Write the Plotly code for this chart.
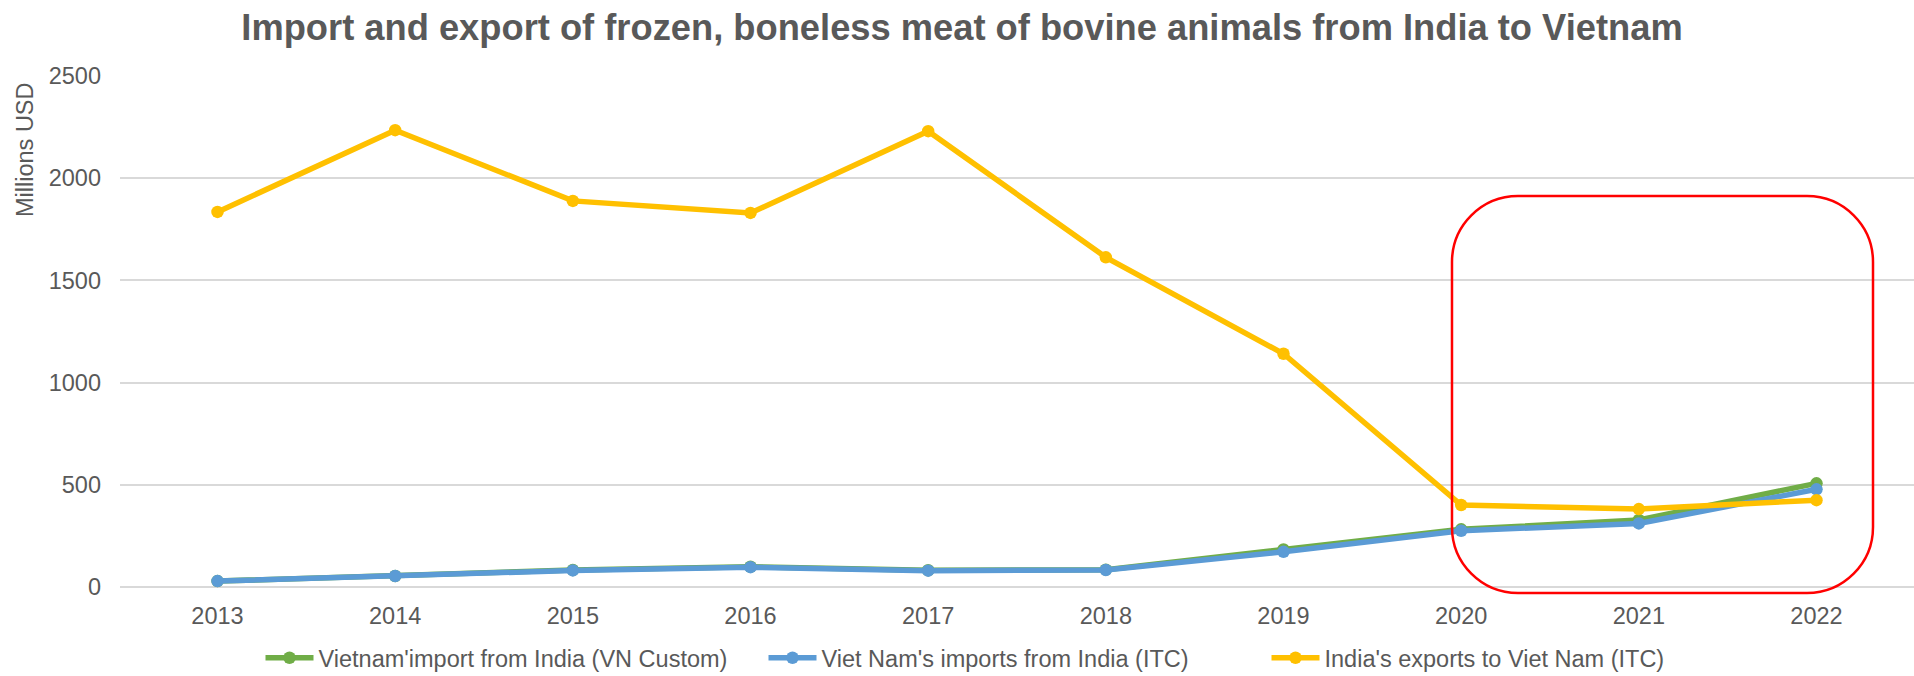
import plotly.graph_objects as go

# Years on the category axis
years = ["2013", "2014", "2015", "2016", "2017", "2018", "2019", "2020", "2021", "2022"]

# Millions USD
vn_custom_imports = [29, 54, 83, 99, 82, 85, 184, 282, 328, 507]
vn_itc_imports = [29, 54, 81, 97, 80, 83, 172, 275, 311, 478]
india_itc_exports = [1835, 2235, 1889, 1830, 2230, 1613, 1141, 401, 381, 425]

series_names = [
    "Vietnam'import from India (VN Custom)",
    "Viet Nam's imports from India (ITC)",
    "India's exports to Viet Nam (ITC)",
]
y_ticks = [0, 500, 1000, 1500, 2000, 2500]

W, H = 1914, 676
ML, MR, MT, MB = 120, 0, 76, 89
PW, PH = W - ML - MR, H - MT - MB

FONT = "Liberation Sans, Arial, sans-serif"
TEXT = "#595959"
GRID = "#D9D9D9"


def to_paper(x, y):
    """Convert page pixel position to paper coordinates."""
    return (x - ML) / PW, (H - MB - y) / PH


def rounded_rect(x0, y0, x1, y1, r):
    k = 0.5523 * r
    pts = []
    # path expressed in pixels, then mapped to paper
    segs = [
        ("M", [(x0 + r, y0)]),
        ("L", [(x1 - r, y0)]),
        ("C", [(x1 - r + k, y0), (x1, y0 + r - k), (x1, y0 + r)]),
        ("L", [(x1, y1 - r)]),
        ("C", [(x1, y1 - r + k), (x1 - r + k, y1), (x1 - r, y1)]),
        ("L", [(x0 + r, y1)]),
        ("C", [(x0 + r - k, y1), (x0, y1 - r + k), (x0, y1 - r)]),
        ("L", [(x0, y0 + r)]),
        ("C", [(x0, y0 + r - k), (x0 + r - k, y0), (x0 + r, y0)]),
    ]
    for cmd, coords in segs:
        parts = []
        for (px, py) in coords:
            a, b = to_paper(px, py)
            parts.append(f"{a:.5f},{b:.5f}")
        pts.append(cmd + " ".join(parts))
    return " ".join(pts) + " Z"


fig = go.Figure()
colors = ["#70AD47", "#5B9BD5", "#FFC000"]
for name, vals, col in zip(series_names,
                           [vn_custom_imports, vn_itc_imports, india_itc_exports],
                           colors):
    fig.add_trace(go.Scatter(
        x=years, y=vals, name=name, mode="lines+markers",
        line=dict(color=col, width=5.5),
        marker=dict(color=col, size=12.5),
        cliponaxis=False,
    ))

fig.update_layout(
    width=W, height=H,
    margin=dict(l=ML, r=MR, t=MT, b=MB, pad=0),
    paper_bgcolor="white", plot_bgcolor="white",
    font=dict(family=FONT, size=23.5, color=TEXT),
    title=dict(
        text="<b>Import and export of frozen, boneless meat of bovine animals from India to Vietnam</b>",
        font=dict(family=FONT, size=36.3, color=TEXT),
        x=0.5 + 5 / W, xanchor="center", xref="container",
        y=1 - 27 / H, yanchor="middle", yref="container",
    ),
    showlegend=True,
    legend=dict(
        orientation="h",
        x=0.5 + 58 / W, xanchor="center", xref="container",
        y=1 - 658 / H, yanchor="middle", yref="container",
        font=dict(family=FONT, size=23.5, color=TEXT),
        itemwidth=48,
        entrywidth=440,
        traceorder="normal",
        bgcolor="rgba(0,0,0,0)",
    ),
    xaxis=dict(
        type="category", showgrid=False, showline=False, zeroline=False,
        ticks="", tickfont=dict(size=23.5, color=TEXT),
        ticklabelstandoff=12,
    ),
    yaxis=dict(
        range=[0, 2500], tickvals=y_ticks, showgrid=True, gridcolor=GRID, gridwidth=1.5,
        zeroline=True, zerolinecolor=GRID, zerolinewidth=1.5,
        showline=False, ticks="", tickfont=dict(size=23.5, color=TEXT),
        ticklabelstandoff=18,
    ),
)

ax, ay = to_paper(25, 150)
fig.add_annotation(
    text="Millions USD", textangle=-90, showarrow=False,
    xref="paper", yref="paper", x=ax, y=ay,
    xanchor="center", yanchor="middle",
    font=dict(family=FONT, size=23.5, color=TEXT),
)

fig.add_shape(
    type="path", xref="paper", yref="paper",
    path=rounded_rect(1452, 196, 1873, 593, 66),
    line=dict(color="#FF0000", width=2.5),
    fillcolor="rgba(0,0,0,0)",
    layer="above",
)

fig.write_html("out.html")
